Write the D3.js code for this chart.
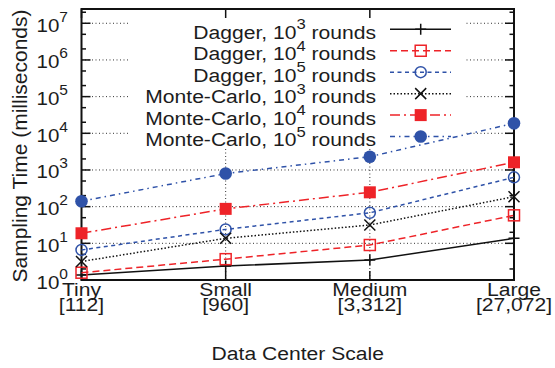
<!DOCTYPE html>
<html><head><meta charset="utf-8">
<script src="https://cdn.jsdelivr.net/npm/d3@7"></script>
<style>body{margin:0;background:#fff}svg{display:block}text{font-family:"Liberation Sans",Arial,Helvetica,sans-serif;fill:#1c1c1c}</style>
</head><body><svg id="c" width="555" height="368"></svg>
<script>
const categories = ["Tiny","Small","Medium","Large"];
const sizes = ["[112]","[960]","[3,312]","[27,072]"];
const dagger1e3 = [1.37, 2.4, 3.5, 13.7];
const dagger1e4 = [1.58, 3.7, 9.0, 58];
const dagger1e5 = [6.6, 24, 68, 630];
const mc1e3 = [3.2, 13.7, 31.6, 187];
const mc1e4 = [18.8, 87, 246, 1620];
const mc1e5 = [140, 800, 2300, 18700];
const yExponents = [0,1,2,3,4,5,6,7];
const yMax = 2.45e7;
const seriesNames = ["Dagger, 10|3| rounds","Dagger, 10|4| rounds","Dagger, 10|5| rounds","Monte-Carlo, 10|3| rounds","Monte-Carlo, 10|4| rounds","Monte-Carlo, 10|5| rounds"];

const RED = "#ee2328", BLUE = "#2f52a8";
const series = [
  {name: seriesNames[0], values: dagger1e3, color:"#111", dash:null, marker:"plus"},
  {name: seriesNames[1], values: dagger1e4, color:RED, dash:"7,4", marker:"osquare"},
  {name: seriesNames[2], values: dagger1e5, color:BLUE, dash:"4,3.5", marker:"ocircle"},
  {name: seriesNames[3], values: mc1e3, color:"#111", dash:"1.5,2", marker:"cross"},
  {name: seriesNames[4], values: mc1e4, color:RED, dash:"10,4,2,4", marker:"fsquare"},
  {name: seriesNames[5], values: mc1e5, color:BLUE, dash:"5,4,1.5,4", marker:"fcircle"}
];

const L = 81.5, R = 514, T = 9, B = 280;
const SX = 1.11;
const svg = d3.select("#c");
const x = d3.scaleLinear().domain([0, categories.length-1]).range([L, R]);
const y = d3.scaleLog().domain([1, yMax]).range([B, T]);

// grid
const grid = svg.append("g").attr("stroke","#333").attr("stroke-width",1).attr("stroke-dasharray","1,2.5");
yExponents.forEach(e => {
  grid.append("line").attr("x1",L).attr("x2",R).attr("y1",y(Math.pow(10,e))).attr("y2",y(Math.pow(10,e)));
});
categories.forEach((c,i) => {
  grid.append("line").attr("x1",x(i)).attr("x2",x(i)).attr("y1",T).attr("y2",B);
});
// opaque key box
svg.append("rect").attr("x",130).attr("y",11).attr("width",464-130).attr("height",148-11).attr("fill","#fff");

// ticks
const tk = svg.append("g").attr("stroke","#111").attr("stroke-width",1.5);
const minor = [];
yExponents.forEach(e => { [2,5].forEach(m => { const v = m*Math.pow(10,e); if (v <= yMax) minor.push(v); }); });
yExponents.forEach(e => {
  const yy = y(Math.pow(10,e));
  tk.append("line").attr("x1",L).attr("x2",L+9).attr("y1",yy).attr("y2",yy);
  tk.append("line").attr("x1",R).attr("x2",R-9).attr("y1",yy).attr("y2",yy);
});
minor.forEach(v => {
  const yy = y(v);
  tk.append("line").attr("x1",L).attr("x2",L+4.5).attr("y1",yy).attr("y2",yy);
  tk.append("line").attr("x1",R).attr("x2",R-4.5).attr("y1",yy).attr("y2",yy);
});
categories.forEach((c,i) => {
  tk.append("line").attr("x1",x(i)).attr("x2",x(i)).attr("y1",B).attr("y2",B-9);
  tk.append("line").attr("x1",x(i)).attr("x2",x(i)).attr("y1",T).attr("y2",T+9);
});
// border
svg.append("rect").attr("x",L).attr("y",T).attr("width",R-L).attr("height",B-T).attr("fill","none").attr("stroke","#111").attr("stroke-width",2);

// y tick labels
yExponents.forEach(e => {
  const t = svg.append("text").attr("text-anchor","end").attr("font-size",18.5)
    .attr("transform",`translate(68,${y(Math.pow(10,e))+8.5}) scale(${SX},1)`);
  t.append("tspan").text("10");
  t.append("tspan").attr("dy",-10).attr("font-size",14).text(e);
});
// x labels (two lines in one text)
categories.forEach((c,i) => {
  const t = svg.append("text").attr("text-anchor","middle").attr("font-size",19)
    .attr("transform",`translate(${x(i)},295.5) scale(${SX},1)`);
  t.append("tspan").attr("x",0).text(c);
  t.append("tspan").attr("x",0).attr("dy",15.5).text(sizes[i]);
});
svg.append("text").attr("text-anchor","middle").attr("font-size",19)
  .attr("transform",`translate(${(L+R)/2},360) scale(${SX},1)`).text("Data Center Scale");
svg.append("text").attr("text-anchor","middle").attr("font-size",21)
  .attr("transform",`translate(27,146) rotate(-90)`).text("Sampling Time (milliseconds)");

// markers
function marker(g, type, cx, cy, color) {
  const s = 5.5;
  if (type==="plus") {
    g.append("path").attr("d",`M${cx-s},${cy}H${cx+s}M${cx},${cy-s}V${cy+s}`).attr("stroke",color).attr("stroke-width",1.5);
  } else if (type==="cross") {
    g.append("path").attr("d",`M${cx-s},${cy-s}L${cx+s},${cy+s}M${cx-s},${cy+s}L${cx+s},${cy-s}`).attr("stroke",color).attr("stroke-width",1.5);
  } else if (type==="osquare") {
    g.append("rect").attr("x",cx-5.5).attr("y",cy-5.5).attr("width",11).attr("height",11).attr("fill","none").attr("stroke",color).attr("stroke-width",1.5);
  } else if (type==="fsquare") {
    g.append("rect").attr("x",cx-6).attr("y",cy-6).attr("width",12).attr("height",12).attr("fill",color);
  } else if (type==="ocircle") {
    g.append("circle").attr("cx",cx).attr("cy",cy).attr("r",5.5).attr("fill","none").attr("stroke",color).attr("stroke-width",1.5);
  } else if (type==="fcircle") {
    g.append("circle").attr("cx",cx).attr("cy",cy).attr("r",6.3).attr("fill",color);
  }
}

// legend
const rowY0 = 29.3, rowDy = 21.45;
series.forEach((s,k) => {
  const ly = rowY0 + k*rowDy;
  const parts = s.name.split("|");
  const t = svg.append("text").attr("text-anchor","end").attr("font-size",19)
    .attr("transform",`translate(376,${ly+9.5}) scale(${SX},1)`);
  t.append("tspan").text(parts[0]);
  t.append("tspan").attr("dy",-9.5).attr("font-size",15).text(parts[1]);
  t.append("tspan").attr("dy",9.5).text(parts[2]);
  svg.append("line").attr("x1",390).attr("x2",451).attr("y1",ly).attr("y2",ly)
    .attr("stroke",s.color).attr("stroke-width",1.5).attr("stroke-dasharray",s.dash);
  marker(svg, s.marker, 420.7, ly, s.color);
});

// series
const line = d3.line().x((d,i)=>x(i)).y(d=>y(d));
series.forEach(s => {
  svg.append("path").datum(s.values).attr("d",line).attr("fill","none")
    .attr("stroke",s.color).attr("stroke-width",1.5).attr("stroke-dasharray",s.dash);
  s.values.forEach((v,i) => marker(svg, s.marker, x(i), y(v), s.color));
});
</script></body></html>
